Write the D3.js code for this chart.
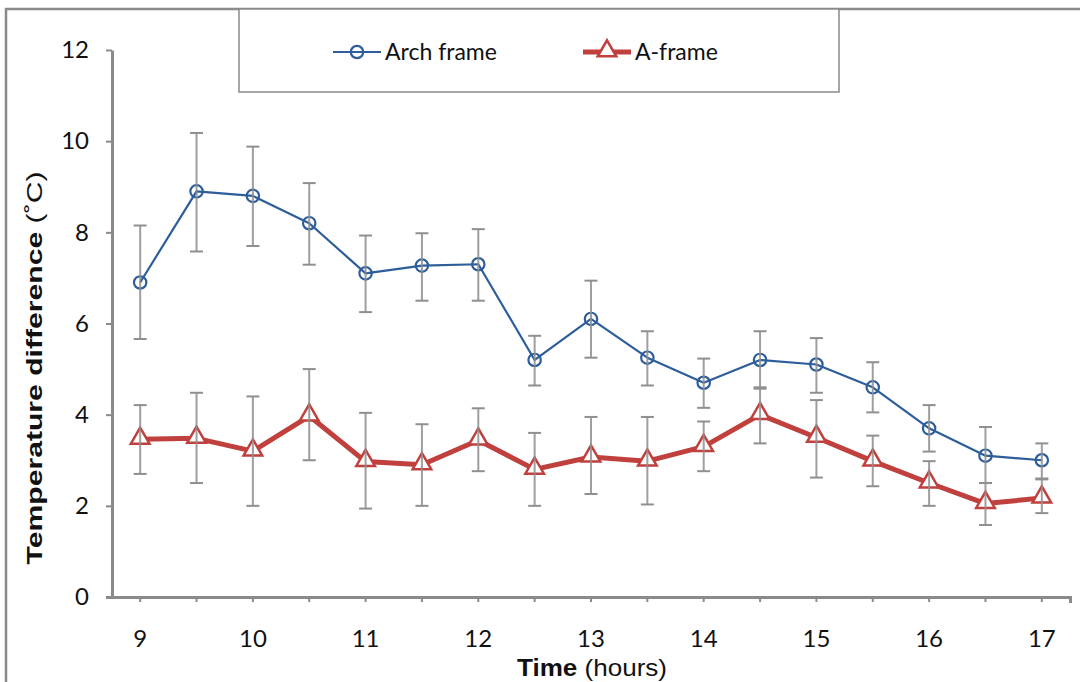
<!DOCTYPE html>
<html>
<head>
<meta charset="utf-8">
<script src="https://cdn.jsdelivr.net/npm/d3@7"></script>
<style>
  body { margin: 0; background: #fff; }
  svg { display: block; }
</style>
</head>
<body>
<div id="chart"></div>
<script>
///////////////////////////////////////////////////////////////////////////
/////////////////////////////// Data //////////////////////////////////////
///////////////////////////////////////////////////////////////////////////
var times = [9, 9.5, 10, 10.5, 11, 11.5, 12, 12.5, 13, 13.5, 14, 14.5, 15, 15.5, 16, 16.5, 17];
var tickLabels = [9, 10, 11, 12, 13, 14, 15, 16, 17];
var yTicks = [0, 2, 4, 6, 8, 10, 12];

var archMean = [6.9, 8.9, 8.8, 8.2, 7.1, 7.27, 7.3, 5.2, 6.1, 5.25, 4.7, 5.2, 5.1, 4.6, 3.7, 3.1, 3.0];
var archHigh = [8.15, 10.18, 9.88, 9.08, 7.93, 7.98, 8.07, 5.73, 6.94, 5.83, 5.23, 5.83, 5.68, 5.15, 4.21, 3.73, 3.37];
var archLow  = [5.66, 7.58, 7.7, 7.29, 6.25, 6.5, 6.5, 4.64, 5.25, 4.64, 4.15, 4.6, 4.48, 4.05, 3.19, 2.5, 2.58];

var aMean = [3.46, 3.48, 3.2, 3.97, 2.97, 2.9, 3.44, 2.8, 3.07, 2.98, 3.3, 4.0, 3.5, 2.98, 2.5, 2.05, 2.17];
var aHigh = [4.21, 4.48, 4.4, 5.0, 4.04, 3.79, 4.14, 3.6, 3.95, 3.95, 3.85, 4.57, 4.32, 3.54, 2.98, 2.5, 2.6];
var aLow  = [2.7, 2.5, 2.0, 3.0, 1.94, 2.0, 2.76, 2.0, 2.26, 2.03, 2.76, 3.37, 2.62, 2.43, 2.0, 1.58, 1.84];

var blue = "#2d5d9b",
    red = "#c0403d",
    axisGrey = "#8a8a8a",
    errGrey = "#8f8f8f",
    tickFont = "Lato, 'Open Sans', sans-serif";

///////////////////////////////////////////////////////////////////////////
/////////////////////////////// Setup /////////////////////////////////////
///////////////////////////////////////////////////////////////////////////
var width = 1080, height = 682;

var svg = d3.select("#chart").append("svg")
    .attr("width", width)
    .attr("height", height);

// outer frame (left and top edges visible)
svg.append("path")
    .attr("d", "M6,682 V9 H1080")
    .attr("fill", "none")
    .attr("stroke", axisGrey)
    .attr("stroke-width", 2.5);

var x = d3.scaleBand()
    .domain(times)
    .range([112, 1070])
    .padding(0);
var cx = function (t) { return x(t) + x.bandwidth() / 2; };

var y = d3.scaleLinear()
    .domain([0, 12])
    .range([597, 50]);

//Y axis
var yAxis = svg.append("g")
    .attr("transform", "translate(112,0)")
    .call(d3.axisLeft(y).tickValues(yTicks).tickSize(6).tickPadding(17).tickSizeOuter(0));
yAxis.select(".domain").attr("stroke", axisGrey).attr("stroke-width", 3);
yAxis.selectAll(".tick line").attr("stroke", axisGrey).attr("stroke-width", 2);
yAxis.selectAll(".tick text")
    .style("font-family", tickFont)
    .style("font-size", "24px")
    .attr("fill", "#111");

//X axis - ticks at every half hour, labels on full hours
var xAxis = svg.append("g")
    .attr("transform", "translate(0,597)")
    .call(d3.axisBottom(x).tickSize(5).tickSizeOuter(0).tickPadding(28)
        .tickFormat(function (d) { return tickLabels.indexOf(d) >= 0 ? d : ""; }));
xAxis.select(".domain").attr("stroke", axisGrey).attr("stroke-width", 3)
    .attr("d", "M106,0.5H1070.5V6");
xAxis.selectAll(".tick line").attr("stroke", axisGrey).attr("stroke-width", 2);
xAxis.selectAll(".tick text")
    .style("font-family", tickFont)
    .style("font-size", "24px")
    .attr("fill", "#111");

//Axis titles
var yTitle = svg.append("text")
    .attr("transform", "translate(42,368) rotate(-90)")
    .attr("text-anchor", "middle")
    .style("font-family", "'Liberation Sans', Arial, sans-serif")
    .style("font-size", "22px")
    .attr("textLength", 393)
    .attr("lengthAdjust", "spacingAndGlyphs")
    .attr("fill", "#111");
yTitle.append("tspan").style("font-weight", "bold").text("Temperature difference ");
yTitle.append("tspan").text("(˚C)");

var xTitle = svg.append("text")
    .attr("x", 592)
    .attr("y", 676)
    .attr("text-anchor", "middle")
    .style("font-family", "'Liberation Sans', Arial, sans-serif")
    .style("font-size", "24px")
    .attr("textLength", 150)
    .attr("lengthAdjust", "spacingAndGlyphs")
    .attr("fill", "#111");
xTitle.append("tspan").style("font-weight", "bold").text("Time");
xTitle.append("tspan").text(" (hours)");

///////////////////////////////////////////////////////////////////////////
/////////////////////////////// Series ////////////////////////////////////
///////////////////////////////////////////////////////////////////////////
var series = [
    {name: "Arch frame", mean: archMean, high: archHigh, low: archLow, color: blue, lw: 2.2, marker: "circle"},
    {name: "A-frame", mean: aMean, high: aHigh, low: aLow, color: red, lw: 5, marker: "triangle"}
];

var line = d3.line()
    .x(function (d) { return cx(d.t); })
    .y(function (d) { return y(d.v); });

var tri = d3.symbol().type(d3.symbolTriangle).size(150);

function drawMarker(g, s, px, py) {
    if (s.marker === "circle") {
        g.append("circle")
            .attr("cx", px).attr("cy", py).attr("r", 6.2)
            .attr("fill", "none")
            .attr("stroke", s.color)
            .attr("stroke-width", 2.2);
    } else {
        g.append("path")
            .attr("d", tri())
            .attr("transform", "translate(" + px + "," + (py - 1) + ")")
            .attr("fill", "#fff")
            .attr("stroke", s.color)
            .attr("stroke-width", 2.5);
    }
}

// draw A-frame first so the Arch frame stays on top like the original
series.slice().reverse().forEach(function (s) {
    var pts = times.map(function (t, i) { return {t: t, v: s.mean[i]}; });
    var g = svg.append("g").attr("class", "series");

    g.append("path")
        .datum(pts)
        .attr("d", line)
        .attr("fill", "none")
        .attr("stroke", s.color)
        .attr("stroke-width", s.lw)
        .attr("stroke-linejoin", "round");

    pts.forEach(function (d) { drawMarker(g, s, cx(d.t), y(d.v)); });
});

//Error bars on top of everything
series.forEach(function (s) {
    var eg = svg.append("g").attr("class", "errorbars");
    times.forEach(function (t, i) {
        var px = cx(t);
        eg.append("line")
            .attr("x1", px).attr("x2", px)
            .attr("y1", y(s.low[i])).attr("y2", y(s.high[i]))
            .attr("stroke", errGrey).attr("stroke-width", 2).attr("opacity", 0.85);
        [s.low[i], s.high[i]].forEach(function (v) {
            eg.append("line")
                .attr("x1", px - 6.5).attr("x2", px + 6.5)
                .attr("y1", y(v)).attr("y2", y(v))
                .attr("stroke", errGrey).attr("stroke-width", 2);
        });
    });
});

///////////////////////////////////////////////////////////////////////////
/////////////////////////////// Legend ////////////////////////////////////
///////////////////////////////////////////////////////////////////////////
svg.append("rect")
    .attr("x", 239).attr("y", 9)
    .attr("width", 600).attr("height", 83)
    .attr("fill", "#fff")
    .attr("stroke", axisGrey)
    .attr("stroke-width", 1.5);

var legendPos = [333, 583];
series.forEach(function (s, i) {
    var lg = svg.append("g").attr("class", "legendItem");
    var x0 = legendPos[i];
    lg.append("line")
        .attr("x1", x0).attr("x2", x0 + 48)
        .attr("y1", 52).attr("y2", 52)
        .attr("stroke", s.color)
        .attr("stroke-width", s.lw);
    drawMarker(lg, s, x0 + 24, 52);
    lg.append("text")
        .attr("x", x0 + 52)
        .attr("y", 52)
        .attr("dy", ".35em")
        .style("font-family", tickFont)
        .style("font-size", "23px")
        .attr("fill", "#111")
        .text(s.name);
});
</script>
</body>
</html>
